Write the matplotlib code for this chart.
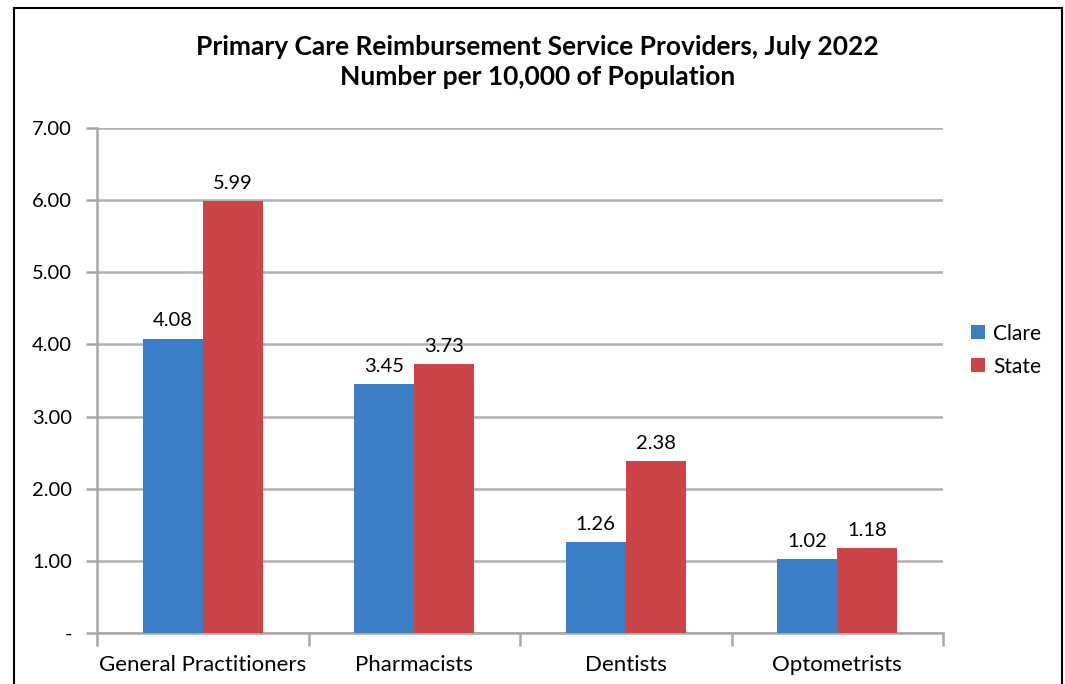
import numpy as np
import matplotlib.pyplot as plt
from matplotlib.patches import Rectangle

# Providers per 10,000 population
categories = ["General Practitioners", "Pharmacists", "Dentists", "Optometrists"]
clare = [4.08, 3.45, 1.26, 1.02]
state = [5.99, 3.73, 2.38, 1.18]
series_names = ["Clare", "State"]
yticks = [0, 1, 2, 3, 4, 5, 6, 7]
ytick_labels = ["-", "1.00", "2.00", "3.00", "4.00", "5.00", "6.00", "7.00"]

blue = "#3A7EC6"
red = "#CB4448"
font = ["Lato", "DejaVu Sans"]

fig = plt.figure(figsize=(10.65, 6.84), dpi=100)
ax = fig.add_axes([0.0911, 0.0746, 0.7944, 0.7383])

x = np.arange(len(categories))
w = 0.284
b1 = ax.bar(x - w / 2, clare, w, color=blue, label=series_names[0], zorder=3)
b2 = ax.bar(x + w / 2, state, w, color=red, label=series_names[1], zorder=3)

for bars, vals in [(b1, clare), (b2, state)]:
    for r, v in zip(bars, vals):
        ax.text(r.get_x() + r.get_width() / 2, v + 0.17, f"{v:.2f}",
                ha="center", va="baseline", fontsize=14.5, family=font)

ax.set_xlim(-0.5, len(categories) - 0.5)
ax.set_ylim(0, 7)
ax.set_yticks(yticks)
ax.set_yticklabels(ytick_labels, fontsize=14.5, family=font)
ax.set_xticks(x)
ax.set_xticklabels(categories, fontsize=16, family=font)
ax.tick_params(axis="x", length=0, pad=16)
ax.tick_params(axis="y", length=8, color="#a8a8a8", width=1.8, pad=10)

# category separators below the axis
ax.set_xticks(np.arange(len(categories) + 1) - 0.5, minor=True)
ax.tick_params(axis="x", which="minor", length=9, color="#a8a8a8", width=1.8)

ax.grid(axis="y", color="#b0b0b0", linewidth=1.8, zorder=0)
for s in ["top", "right"]:
    ax.spines[s].set_visible(False)
for s in ["left", "bottom"]:
    ax.spines[s].set_color("#a8a8a8")
    ax.spines[s].set_linewidth(1.8)

fig.text(0.5047, 0.909, "Primary Care Reimbursement Service Providers, July 2022\nNumber per 10,000 of Population",
         ha="center", va="center", fontsize=19, fontweight="bold", family=font, linespacing=1.28)

ax.legend(loc="center left", bbox_to_anchor=(1.011, 0.56), frameon=False,
          prop={"family": font, "size": 15}, handlelength=0.65, handleheight=0.65,
          handletextpad=0.4, labelspacing=0.62)

# outer frame
fig.patches.append(Rectangle((14 / 1065, -0.1), 1048 / 1065, 1.1 - 8 / 684,
                             transform=fig.transFigure, fill=False,
                             edgecolor="black", linewidth=1.5))

fig.savefig("out.png", dpi=100)
